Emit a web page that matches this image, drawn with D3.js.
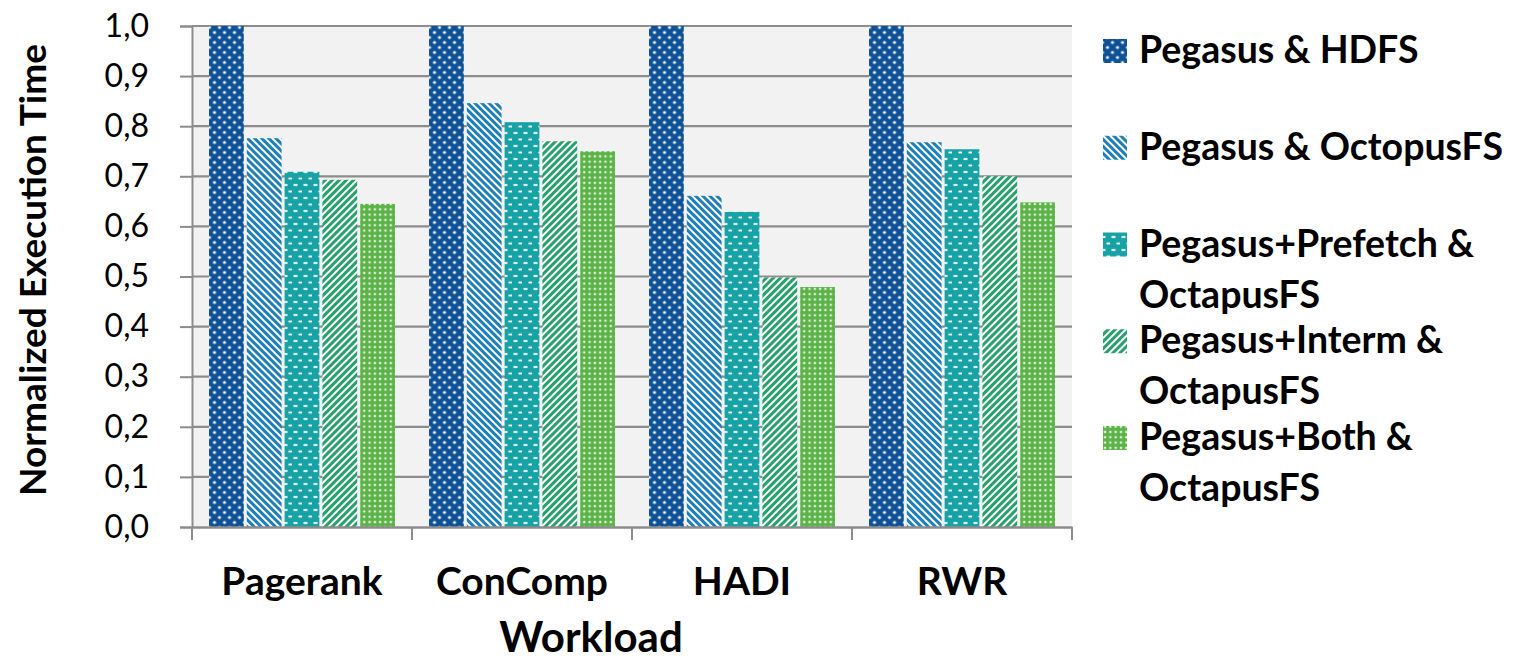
<!DOCTYPE html>
<html><head><meta charset="utf-8">
<script src="https://cdn.jsdelivr.net/npm/d3@7"></script>
<style>
html,body{margin:0;padding:0;background:#fff;}
svg text{font-family:Lato,"Open Sans",sans-serif;fill:#000;}
</style></head>
<body><svg id="chart" width="1528" height="662"></svg>
<script>
const categories = ["Pagerank","ConComp","HADI","RWR"];
const seriesNames = ["Pegasus & HDFS","Pegasus & OctopusFS","Pegasus+Prefetch & OctapusFS","Pegasus+Interm & OctapusFS","Pegasus+Both & OctapusFS"];
const legendLines = [["Pegasus & HDFS"],["Pegasus & OctopusFS"],["Pegasus+Prefetch &","OctapusFS"],["Pegasus+Interm &","OctapusFS"],["Pegasus+Both &","OctapusFS"]];
const hdfs     = [1.0, 1.0, 1.0, 1.0];
const octopus  = [0.776, 0.846, 0.661, 0.768];
const prefetch = [0.709, 0.808, 0.629, 0.754];
const interm   = [0.693, 0.770, 0.498, 0.700];
const both     = [0.645, 0.750, 0.479, 0.648];
const yTicks = [0,0.1,0.2,0.3,0.4,0.5,0.6,0.7,0.8,0.9,1.0];
const seriesValues = [hdfs, octopus, prefetch, interm, both];

const svg = d3.select("#chart");
const L = 192, R = 1072, T = 26, B = 527;

// patterns
const defs = svg.append("defs");
function dotsPattern(id){
  const p = defs.append("pattern").attr("id",id).attr("patternUnits","userSpaceOnUse").attr("width",10).attr("height",10);
  p.append("rect").attr("width",10).attr("height",10).attr("fill","#0E5196");
  [[2.5,2.5],[7.5,7.5]].forEach(([x,y])=>{
    p.append("circle").attr("cx",x).attr("cy",y).attr("r",2.1).attr("fill","#ffffff").attr("opacity",0.35);
    p.append("circle").attr("cx",x).attr("cy",y).attr("r",1.1).attr("fill","#ffffff");
  });
}
function stripePattern(id,color,angle){
  const p = defs.append("pattern").attr("id",id).attr("patternUnits","userSpaceOnUse").attr("width",5).attr("height",5)
    .attr("patternTransform",`rotate(${angle})`);
  p.append("rect").attr("width",5).attr("height",5).attr("fill","#ffffff");
  p.append("rect").attr("width",3).attr("height",5).attr("fill",color);
}
function dashPattern(id){
  const p = defs.append("pattern").attr("id",id).attr("patternUnits","userSpaceOnUse").attr("width",10).attr("height",13);
  p.append("rect").attr("width",10).attr("height",13).attr("fill","#17A2A6");
  [[1.5,2.2],[6.5,8.7]].forEach(([x,y])=>{
    p.append("rect").attr("x",x-0.5).attr("y",y-0.5).attr("width",5).attr("height",2.6).attr("rx",1.2).attr("fill","#ffffff").attr("opacity",0.35);
    p.append("rect").attr("x",x).attr("y",y).attr("width",4).attr("height",1.6).attr("rx",0.8).attr("fill","#ffffff");
  });
}
function gridDotPattern(id){
  const p = defs.append("pattern").attr("id",id).attr("patternUnits","userSpaceOnUse").attr("width",5.3).attr("height",5.3);
  p.append("rect").attr("width",5.3).attr("height",5.3).attr("fill","#5BB347");
  p.append("circle").attr("cx",2.65).attr("cy",2.65).attr("r",1.6).attr("fill","#ffffff").attr("opacity",0.35);
  p.append("circle").attr("cx",2.65).attr("cy",2.65).attr("r",0.9).attr("fill","#ffffff");
}
dotsPattern("p0");
stripePattern("p1","#1E7FB8",-45);
dashPattern("p2");
stripePattern("p3","#27A06C",45);
gridDotPattern("p4");
const fills = ["url(#p0)","url(#p1)","url(#p2)","url(#p3)","url(#p4)"];

const x0 = d3.scaleBand().domain(categories).range([L,R]).paddingInner(0).paddingOuter(0);
const groupPad = 17;
const x1 = d3.scaleBand().domain(d3.range(seriesNames.length)).range([groupPad, x0.bandwidth()-groupPad]).paddingInner(0.08).paddingOuter(0);
const y = d3.scaleLinear().domain([0,1]).range([B,T]);

// plot background
svg.append("rect").attr("x",L).attr("y",T).attr("width",R-L).attr("height",B-T).attr("fill","#F2F2F2");

// gridlines
svg.append("g").selectAll("line").data(yTicks.filter(d=>d>0)).join("line")
  .attr("x1",L).attr("x2",R).attr("y1",d=>y(d)).attr("y2",d=>y(d))
  .attr("stroke","#8C8C8C").attr("stroke-width",2.2);

// bars
const groups = svg.append("g").selectAll("g").data(categories).join("g")
  .attr("transform",d=>`translate(${x0(d)},0)`);
groups.selectAll("rect").data((c,ci)=>seriesValues.map((s,si)=>({si,v:s[ci]}))).join("rect")
  .attr("x",d=>x1(d.si)).attr("width",x1.bandwidth())
  .attr("y",d=>y(d.v)).attr("height",d=>y(0)-y(d.v))
  .attr("fill",d=>fills[d.si]);

// y axis
const yAxis = d3.axisLeft(y).tickValues(yTicks).tickSize(12).tickPadding(31)
  .tickFormat(d=>d3.format(".1f")(d).replace(".",","));
const ya = svg.append("g").attr("transform",`translate(${L},0)`).call(yAxis);
ya.select(".domain").attr("stroke","#8C8C8C").attr("stroke-width",2);
ya.selectAll(".tick line").attr("stroke","#8C8C8C").attr("stroke-width",2);
ya.selectAll(".tick text").attr("font-size",32).attr("font-family","Lato").attr("fill","#000");

// x axis
const xAxis = d3.axisBottom(x0).tickSize(0).tickPadding(0);
const xa = svg.append("g").attr("transform",`translate(0,${B})`).call(xAxis);
xa.select(".domain").attr("stroke","#8C8C8C").attr("stroke-width",2.5);
xa.selectAll(".tick text").attr("font-size",39).attr("font-weight","bold").attr("dy",0).attr("y",68).attr("fill","#000");
// category separators
xa.append("g").selectAll("line").data(categories.map(c=>x0(c)).concat([R])).join("line")
  .attr("x1",d=>d).attr("x2",d=>d).attr("y1",0).attr("y2",13)
  .attr("stroke","#8C8C8C").attr("stroke-width",2);

// axis titles
svg.append("text").attr("x",591).attr("y",652).attr("text-anchor","middle")
  .attr("font-size",42).attr("font-weight","bold").text("Workload");
svg.append("text").attr("transform",`translate(46,270) rotate(-90)`).attr("text-anchor","middle")
  .attr("font-size",37).attr("font-weight","bold").text("Normalized Execution Time");

// legend
const lg = svg.append("g");
const ly = d3.scaleLinear().domain([0,4]).range([63,450]);
legendLines.forEach((lines,i)=>{
  const by = ly(i);
  lg.append("rect").attr("x",1103).attr("y",by-24).attr("width",24).attr("height",24).attr("fill",fills[i]);
  const t = lg.append("text").attr("x",1139).attr("y",by).attr("font-size",37.5).attr("font-weight","bold");
  lines.forEach((ln,j)=>t.append("tspan").attr("x",1139).attr("y",by+j*51).text(ln));
});
</script></body></html>
